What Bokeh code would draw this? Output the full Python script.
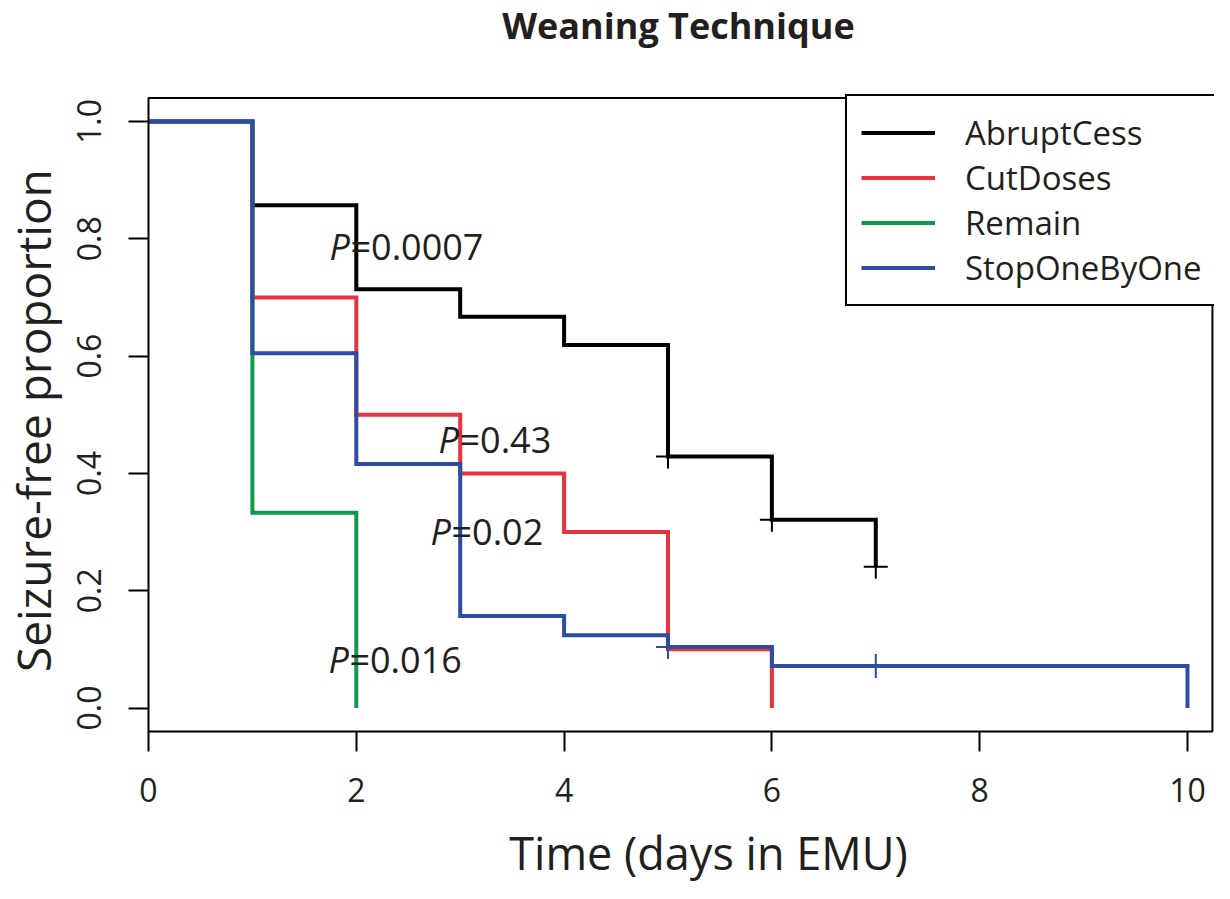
import math
from bokeh.plotting import figure
from bokeh.models import (Label, Range1d, FixedTicker, NumeralTickFormatter,
                          Legend, LegendItem, BoxAnnotation)
from bokeh.embed import file_html
from bokeh.resources import INLINE

# ---------------- data ----------------
groups = ["AbruptCess", "CutDoses", "Remain", "StopOneByOne"]

abrupt_t = [0, 1, 2, 3, 4, 5, 6, 7]
abrupt_s = [1.0, 0.857, 0.714, 0.667, 0.619, 0.429, 0.321, 0.241]

cut_t = [0, 1, 2, 3, 4, 5, 6]
cut_s = [1.0, 0.70, 0.50, 0.40, 0.30, 0.10, 0.0]

remain_t = [0, 1, 2]
remain_s = [1.0, 0.333, 0.0]

stop_t = [0, 1, 2, 3, 4, 5, 6, 10]
stop_s = [1.0, 0.605, 0.416, 0.157, 0.124, 0.104, 0.0717, 0.0]

# censored observations
abrupt_cens_t = [5, 6, 7]
abrupt_cens_s = [0.429, 0.321, 0.241]
stop_cens_t = [5, 7]
stop_cens_s = [0.104, 0.0717]

x_ticks = [0, 2, 4, 6, 8, 10]
y_ticks = [0.0, 0.2, 0.4, 0.6, 0.8, 1.0]

p_texts = ["=0.0007", "=0.43", "=0.02", "=0.016"]
p_x = [1.742, 2.791, 2.714, 1.732]
p_y = [0.763, 0.434, 0.277, 0.059]

title_text = "Weaning Technique"
x_label = "Time (days in EMU)"
y_label = "Seizure-free proportion"

# plotting box limits (R style xlim / ylim)
x_lim = [0, 10.24]
y_lim = [-0.04, 1.04]

colors = ["#000000", "#e8333a", "#0e9a48", "#2b4ea2"]
TXT = "#231f20"
FONT = "Open Sans"

# ---------------- figure ----------------
W, H = 1214, 883
XR = (-1.4244, 10.260)
YR = (-0.2992, 1.2063)
PX_X = W / (XR[1] - XR[0])      # pixels per x unit
PX_Y = H / (YR[1] - YR[0])      # pixels per y unit
BASE_FIX = 0.388                # text baseline correction (in em)

p = figure(width=W, height=H, output_backend="svg", toolbar_location=None,
           title=None, x_range=Range1d(*XR), y_range=Range1d(*YR),
           min_border=0, min_border_left=0, min_border_right=0,
           min_border_top=0, min_border_bottom=0)
p.grid.visible = False
p.outline_line_color = None
p.background_fill_color = "white"
p.border_fill_color = "white"

for ax in (p.xaxis[0], p.yaxis[0]):
    ax.axis_line_color = None
    ax.major_tick_in = 0
    ax.major_tick_out = 20
    ax.major_tick_line_width = 2
    ax.major_tick_line_color = "#000000"
    ax.minor_tick_line_color = None
    ax.major_label_text_font = FONT
    ax.major_label_text_font_size = "32px"
    ax.major_label_text_color = TXT

p.xaxis[0].fixed_location = y_lim[0]
p.xaxis[0].ticker = FixedTicker(ticks=x_ticks)
p.xaxis[0].major_label_standoff = 27
p.yaxis[0].fixed_location = x_lim[0]
p.yaxis[0].ticker = FixedTicker(ticks=y_ticks)
p.yaxis[0].formatter = NumeralTickFormatter(format="0.0")
p.yaxis[0].major_label_orientation = "vertical"
p.yaxis[0].major_label_standoff = 27

p.add_layout(BoxAnnotation(left=x_lim[0], right=x_lim[1], bottom=y_lim[0],
                           top=y_lim[1], fill_color=None, fill_alpha=0,
                           line_color="#000000", line_alpha=1.0, line_width=2))

series = [(abrupt_t, abrupt_s), (cut_t, cut_s), (remain_t, remain_s), (stop_t, stop_s)]
items = []
for name, (t, s), c in zip(groups, series, colors):
    r = p.step(t, s, mode="after", line_color=c, line_width=4, line_join="miter")
    items.append(LegendItem(label=name, renderers=[r]))

p.scatter(abrupt_cens_t, abrupt_cens_s, marker="cross", size=24,
          line_color=colors[0], line_width=2)
p.scatter(stop_cens_t, stop_cens_s, marker="cross", size=24,
          line_color=colors[3], line_width=2)

legend = Legend(items=items, location=(845, 577), margin=0, padding=14,
                spacing=0, glyph_width=74, glyph_height=45, label_height=45,
                label_standoff=30, label_text_font=FONT,
                label_text_font_size="33px", label_text_color=TXT,
                border_line_color="#000000", border_line_alpha=1.0,
                border_line_width=2,
                background_fill_color="white", background_fill_alpha=1.0)
p.add_layout(legend, "center")

P_SIZE = 36
for txt, x, y in zip(p_texts, p_x, p_y):
    yy = y + BASE_FIX * P_SIZE / PX_Y
    p.add_layout(Label(x=x, y=yy, text="P", text_font=FONT, text_font_style="italic",
                       text_font_size=f"{P_SIZE}px", text_color=TXT,
                       text_align="left", text_baseline="alphabetic"))
    p.add_layout(Label(x=x, y=yy, x_offset=21, text=txt, text_font=FONT,
                       text_font_size=f"{P_SIZE}px", text_color=TXT,
                       text_align="left", text_baseline="alphabetic"))

T_SIZE, XL_SIZE, YL_SIZE = 36, 45, 46
p.add_layout(Label(x=5.101, y=1.1398 + BASE_FIX * T_SIZE / PX_Y, text=title_text,
                   text_font=FONT, text_font_style="bold",
                   text_font_size=f"{T_SIZE}px", text_color=TXT,
                   text_align="center", text_baseline="alphabetic"))
p.add_layout(Label(x=5.39, y=-0.2754 + BASE_FIX * XL_SIZE / PX_Y, text=x_label,
                   text_font=FONT, text_font_size=f"{XL_SIZE}px", text_color=TXT,
                   text_align="center", text_baseline="alphabetic"))
p.add_layout(Label(x=-0.9432 - BASE_FIX * YL_SIZE / PX_X, y=0.49, text=y_label,
                   angle=math.pi / 2, text_font=FONT,
                   text_font_size=f"{YL_SIZE}px", text_color=TXT,
                   text_align="center", text_baseline="alphabetic"))

open("out.html", "w").write(file_html(p, INLINE))
